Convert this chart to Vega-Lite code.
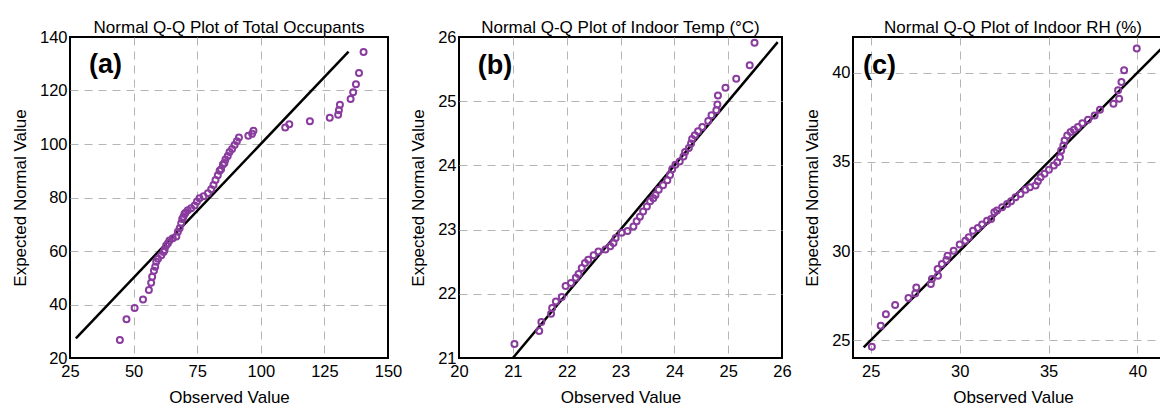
{
  "$schema": "https://vega.github.io/schema/vega-lite/v6.json",
  "padding": {"left": 10, "top": 18, "right": 0, "bottom": 0},
  "bounds": "flush",
  "spacing": 71,
  "datasets": {
    "pts": [
      {"panel": "a", "x": 44.6, "y": 26.7}, {"panel": "a", "x": 47.2, "y": 34.5}, {"panel": "a", "x": 50.4, "y": 38.7},
      {"panel": "a", "x": 53.7, "y": 41.9}, {"panel": "a", "x": 56.0, "y": 45.4}, {"panel": "a", "x": 56.9, "y": 48.1},
      {"panel": "a", "x": 57.3, "y": 50.4}, {"panel": "a", "x": 58.0, "y": 52.6}, {"panel": "a", "x": 58.5, "y": 54.1},
      {"panel": "a", "x": 58.9, "y": 56.0}, {"panel": "a", "x": 59.6, "y": 57.1}, {"panel": "a", "x": 60.9, "y": 58.4},
      {"panel": "a", "x": 61.8, "y": 59.6}, {"panel": "a", "x": 62.2, "y": 60.4}, {"panel": "a", "x": 62.8, "y": 62.1},
      {"panel": "a", "x": 63.5, "y": 62.9}, {"panel": "a", "x": 64.1, "y": 63.9}, {"panel": "a", "x": 65.4, "y": 64.8},
      {"panel": "a", "x": 66.8, "y": 65.4}, {"panel": "a", "x": 67.4, "y": 67.2}, {"panel": "a", "x": 68.1, "y": 68.5},
      {"panel": "a", "x": 68.7, "y": 70.4}, {"panel": "a", "x": 69.1, "y": 72.0}, {"panel": "a", "x": 69.6, "y": 72.8},
      {"panel": "a", "x": 70.0, "y": 73.8}, {"panel": "a", "x": 70.4, "y": 74.3}, {"panel": "a", "x": 71.3, "y": 75.2},
      {"panel": "a", "x": 72.6, "y": 76.0}, {"panel": "a", "x": 74.0, "y": 77.0}, {"panel": "a", "x": 74.9, "y": 78.5},
      {"panel": "a", "x": 75.9, "y": 79.7}, {"panel": "a", "x": 77.5, "y": 80.5}, {"panel": "a", "x": 79.2, "y": 81.6},
      {"panel": "a", "x": 80.5, "y": 83.1}, {"panel": "a", "x": 81.4, "y": 84.7}, {"panel": "a", "x": 82.2, "y": 86.5},
      {"panel": "a", "x": 83.1, "y": 88.3}, {"panel": "a", "x": 83.8, "y": 90.0}, {"panel": "a", "x": 84.4, "y": 90.6},
      {"panel": "a", "x": 85.1, "y": 92.3}, {"panel": "a", "x": 85.7, "y": 92.9}, {"panel": "a", "x": 86.1, "y": 94.2},
      {"panel": "a", "x": 87.0, "y": 95.5}, {"panel": "a", "x": 87.7, "y": 97.0}, {"panel": "a", "x": 88.7, "y": 98.1},
      {"panel": "a", "x": 89.7, "y": 99.6}, {"panel": "a", "x": 90.6, "y": 101.0}, {"panel": "a", "x": 91.4, "y": 102.4},
      {"panel": "a", "x": 95.1, "y": 103.1}, {"panel": "a", "x": 96.6, "y": 103.8}, {"panel": "a", "x": 97.1, "y": 105.0},
      {"panel": "a", "x": 109.6, "y": 106.2}, {"panel": "a", "x": 111.2, "y": 107.4}, {"panel": "a", "x": 119.3, "y": 108.5},
      {"panel": "a", "x": 127.1, "y": 109.8}, {"panel": "a", "x": 130.4, "y": 110.9}, {"panel": "a", "x": 130.7, "y": 112.6},
      {"panel": "a", "x": 131.1, "y": 114.7}, {"panel": "a", "x": 135.3, "y": 116.8}, {"panel": "a", "x": 136.3, "y": 119.3},
      {"panel": "a", "x": 137.4, "y": 122.3}, {"panel": "a", "x": 138.6, "y": 126.5}, {"panel": "a", "x": 140.4, "y": 134.4},

      {"panel": "b", "x": 21.03, "y": 21.22}, {"panel": "b", "x": 21.49, "y": 21.42}, {"panel": "b", "x": 21.53, "y": 21.56},
      {"panel": "b", "x": 21.71, "y": 21.69}, {"panel": "b", "x": 21.73, "y": 21.78}, {"panel": "b", "x": 21.80, "y": 21.88},
      {"panel": "b", "x": 21.91, "y": 21.95}, {"panel": "b", "x": 21.98, "y": 22.12}, {"panel": "b", "x": 22.08, "y": 22.17},
      {"panel": "b", "x": 22.17, "y": 22.25}, {"panel": "b", "x": 22.22, "y": 22.31}, {"panel": "b", "x": 22.28, "y": 22.40},
      {"panel": "b", "x": 22.34, "y": 22.48}, {"panel": "b", "x": 22.40, "y": 22.53}, {"panel": "b", "x": 22.50, "y": 22.60},
      {"panel": "b", "x": 22.59, "y": 22.66}, {"panel": "b", "x": 22.72, "y": 22.69}, {"panel": "b", "x": 22.81, "y": 22.74},
      {"panel": "b", "x": 22.87, "y": 22.79}, {"panel": "b", "x": 22.91, "y": 22.87}, {"panel": "b", "x": 23.02, "y": 22.95},
      {"panel": "b", "x": 23.13, "y": 22.98}, {"panel": "b", "x": 23.24, "y": 23.05}, {"panel": "b", "x": 23.30, "y": 23.13},
      {"panel": "b", "x": 23.36, "y": 23.20}, {"panel": "b", "x": 23.42, "y": 23.28}, {"panel": "b", "x": 23.49, "y": 23.36},
      {"panel": "b", "x": 23.55, "y": 23.44}, {"panel": "b", "x": 23.61, "y": 23.49}, {"panel": "b", "x": 23.65, "y": 23.54},
      {"panel": "b", "x": 23.71, "y": 23.62}, {"panel": "b", "x": 23.79, "y": 23.69}, {"panel": "b", "x": 23.87, "y": 23.77},
      {"panel": "b", "x": 23.92, "y": 23.85}, {"panel": "b", "x": 23.96, "y": 23.94}, {"panel": "b", "x": 24.02, "y": 24.01},
      {"panel": "b", "x": 24.10, "y": 24.06}, {"panel": "b", "x": 24.17, "y": 24.14}, {"panel": "b", "x": 24.20, "y": 24.21},
      {"panel": "b", "x": 24.27, "y": 24.27}, {"panel": "b", "x": 24.31, "y": 24.34}, {"panel": "b", "x": 24.33, "y": 24.41},
      {"panel": "b", "x": 24.38, "y": 24.47}, {"panel": "b", "x": 24.44, "y": 24.53}, {"panel": "b", "x": 24.52, "y": 24.60},
      {"panel": "b", "x": 24.63, "y": 24.69}, {"panel": "b", "x": 24.69, "y": 24.78}, {"panel": "b", "x": 24.78, "y": 24.86},
      {"panel": "b", "x": 24.80, "y": 24.95}, {"panel": "b", "x": 24.81, "y": 25.09}, {"panel": "b", "x": 24.95, "y": 25.21},
      {"panel": "b", "x": 25.15, "y": 25.35}, {"panel": "b", "x": 25.40, "y": 25.56}, {"panel": "b", "x": 25.49, "y": 25.91},

      {"panel": "c", "x": 25.06, "y": 24.63}, {"panel": "c", "x": 25.56, "y": 25.81}, {"panel": "c", "x": 25.85, "y": 26.46},
      {"panel": "c", "x": 26.37, "y": 26.97}, {"panel": "c", "x": 27.12, "y": 27.36}, {"panel": "c", "x": 27.56, "y": 27.96},
      {"panel": "c", "x": 27.50, "y": 27.62}, {"panel": "c", "x": 28.38, "y": 28.15}, {"panel": "c", "x": 28.44, "y": 28.43},
      {"panel": "c", "x": 28.78, "y": 28.61}, {"panel": "c", "x": 28.76, "y": 28.99}, {"panel": "c", "x": 29.00, "y": 29.27},
      {"panel": "c", "x": 29.25, "y": 29.49}, {"panel": "c", "x": 29.32, "y": 29.74}, {"panel": "c", "x": 29.66, "y": 30.02},
      {"panel": "c", "x": 30.00, "y": 30.36}, {"panel": "c", "x": 30.32, "y": 30.58}, {"panel": "c", "x": 30.51, "y": 30.77},
      {"panel": "c", "x": 30.75, "y": 31.14}, {"panel": "c", "x": 31.02, "y": 31.29}, {"panel": "c", "x": 31.26, "y": 31.48},
      {"panel": "c", "x": 31.54, "y": 31.70}, {"panel": "c", "x": 31.77, "y": 31.80}, {"panel": "c", "x": 31.95, "y": 32.17},
      {"panel": "c", "x": 32.10, "y": 32.27}, {"panel": "c", "x": 32.39, "y": 32.45}, {"panel": "c", "x": 32.67, "y": 32.64},
      {"panel": "c", "x": 32.89, "y": 32.79}, {"panel": "c", "x": 33.14, "y": 33.01}, {"panel": "c", "x": 33.42, "y": 33.20},
      {"panel": "c", "x": 33.70, "y": 33.43}, {"panel": "c", "x": 33.95, "y": 33.58}, {"panel": "c", "x": 34.27, "y": 33.67},
      {"panel": "c", "x": 34.40, "y": 33.91}, {"panel": "c", "x": 34.55, "y": 34.14}, {"panel": "c", "x": 34.77, "y": 34.33},
      {"panel": "c", "x": 35.02, "y": 34.55}, {"panel": "c", "x": 35.30, "y": 34.79}, {"panel": "c", "x": 35.49, "y": 34.98},
      {"panel": "c", "x": 35.64, "y": 35.26}, {"panel": "c", "x": 35.71, "y": 35.64}, {"panel": "c", "x": 35.83, "y": 35.92},
      {"panel": "c", "x": 35.90, "y": 36.20}, {"panel": "c", "x": 36.05, "y": 36.48}, {"panel": "c", "x": 36.24, "y": 36.67},
      {"panel": "c", "x": 36.43, "y": 36.80}, {"panel": "c", "x": 36.65, "y": 36.95}, {"panel": "c", "x": 36.90, "y": 37.17},
      {"panel": "c", "x": 37.22, "y": 37.36}, {"panel": "c", "x": 37.59, "y": 37.60}, {"panel": "c", "x": 37.89, "y": 37.92},
      {"panel": "c", "x": 38.65, "y": 38.26}, {"panel": "c", "x": 38.97, "y": 38.54}, {"panel": "c", "x": 38.91, "y": 39.01},
      {"panel": "c", "x": 39.10, "y": 39.48}, {"panel": "c", "x": 39.25, "y": 40.13}, {"panel": "c", "x": 39.96, "y": 41.35}
    ],
    "refs": [
      {"panel": "a", "x": 27.3, "y": 27.3, "x2": 134.5, "y2": 134.5},
      {"panel": "b", "x": 21.0, "y": 21.0, "x2": 25.92, "y2": 25.92},
      {"panel": "c", "x": 24.6, "y": 24.6, "x2": 42.0, "y2": 42.0}
    ],
    "tags": [
      {"panel": "a", "x": 32.5, "y": 129.5, "label": "(a)"},
      {"panel": "b", "x": 20.35, "y": 25.55, "label": "(b)"},
      {"panel": "c", "x": 24.56, "y": 40.38, "label": "(c)"}
    ]
  },
  "hconcat": [
    {
      "width": 318, "height": 321,
      "title": {"text": "Normal Q-Q Plot of Total Occupants", "offset": -8},
      "encoding": {
        "x": {"field": "x", "type": "quantitative", "scale": {"domain": [25, 150], "nice": false, "zero": false},
              "axis": {"values": [25, 50, 75, 100, 125, 150], "title": "Observed Value",
                       "gridOpacity": {"condition": {"test": "datum.value <= 25 || datum.value >= 150", "value": 0}, "value": 1}}},
        "y": {"field": "y", "type": "quantitative", "scale": {"domain": [20, 140], "nice": false, "zero": false},
              "axis": {"values": [20, 40, 60, 80, 100, 120, 140], "title": "Expected Normal Value",
                       "gridOpacity": {"condition": {"test": "datum.value <= 20 || datum.value >= 140", "value": 0}, "value": 1}}}
      },
      "layer": [
        {"data": {"name": "refs"}, "transform": [{"filter": "datum.panel === 'a'"}],
         "mark": {"type": "rule", "color": "#000000", "strokeWidth": 2.5, "clip": true},
         "encoding": {"x2": {"field": "x2"}, "y2": {"field": "y2"}}},
        {"data": {"name": "pts"}, "transform": [{"filter": "datum.panel === 'a'"}],
         "mark": {"type": "point", "shape": "circle", "filled": false, "color": "#8a3c9e", "size": 36, "strokeWidth": 2, "opacity": 1}},
        {"data": {"name": "tags"}, "transform": [{"filter": "datum.panel === 'a'"}],
         "mark": {"type": "text", "align": "left", "baseline": "middle", "font": "Liberation Sans", "fontSize": 27, "fontWeight": "bold", "color": "#000000"},
         "encoding": {"text": {"field": "label"}}}
      ]
    },
    {
      "width": 323, "height": 321,
      "title": {"text": "Normal Q-Q Plot of Indoor Temp (°C)", "offset": -8},
      "encoding": {
        "x": {"field": "x", "type": "quantitative", "scale": {"domain": [20, 26], "nice": false, "zero": false},
              "axis": {"values": [20, 21, 22, 23, 24, 25, 26], "title": "Observed Value",
                       "gridOpacity": {"condition": {"test": "datum.value <= 20 || datum.value >= 26", "value": 0}, "value": 1}}},
        "y": {"field": "y", "type": "quantitative", "scale": {"domain": [21, 26], "nice": false, "zero": false},
              "axis": {"values": [21, 22, 23, 24, 25, 26], "title": "Expected Normal Value",
                       "gridOpacity": {"condition": {"test": "datum.value <= 21 || datum.value >= 26", "value": 0}, "value": 1}}}
      },
      "layer": [
        {"data": {"name": "refs"}, "transform": [{"filter": "datum.panel === 'b'"}],
         "mark": {"type": "rule", "color": "#000000", "strokeWidth": 2.5, "clip": true},
         "encoding": {"x2": {"field": "x2"}, "y2": {"field": "y2"}}},
        {"data": {"name": "pts"}, "transform": [{"filter": "datum.panel === 'b'"}],
         "mark": {"type": "point", "shape": "circle", "filled": false, "color": "#8a3c9e", "size": 36, "strokeWidth": 2, "opacity": 1}},
        {"data": {"name": "tags"}, "transform": [{"filter": "datum.panel === 'b'"}],
         "mark": {"type": "text", "align": "left", "baseline": "middle", "font": "Liberation Sans", "fontSize": 27, "fontWeight": "bold", "color": "#000000"},
         "encoding": {"text": {"field": "label"}}}
      ]
    },
    {
      "width": 320, "height": 321,
      "title": {"text": "Normal Q-Q Plot of Indoor RH (%)", "offset": 0},
      "encoding": {
        "x": {"field": "x", "type": "quantitative", "scale": {"domain": [24, 42], "nice": false, "zero": false},
              "axis": {"values": [25, 30, 35, 40], "title": "Observed Value"}},
        "y": {"field": "y", "type": "quantitative", "scale": {"domain": [24, 42], "nice": false, "zero": false},
              "axis": {"values": [25, 30, 35, 40], "title": "Expected Normal Value"}}
      },
      "layer": [
        {"data": {"name": "refs"}, "transform": [{"filter": "datum.panel === 'c'"}],
         "mark": {"type": "rule", "color": "#000000", "strokeWidth": 2.5, "clip": true},
         "encoding": {"x2": {"field": "x2"}, "y2": {"field": "y2"}}},
        {"data": {"name": "pts"}, "transform": [{"filter": "datum.panel === 'c'"}],
         "mark": {"type": "point", "shape": "circle", "filled": false, "color": "#8a3c9e", "size": 36, "strokeWidth": 2, "opacity": 1}},
        {"data": {"name": "tags"}, "transform": [{"filter": "datum.panel === 'c'"}],
         "mark": {"type": "text", "align": "left", "baseline": "middle", "font": "Liberation Sans", "fontSize": 27, "fontWeight": "bold", "color": "#000000"},
         "encoding": {"text": {"field": "label"}}}
      ]
    }
  ],
  "config": {
    "background": "#ffffff",
    "view": {"stroke": "#000000", "strokeWidth": 2},
    "title": {"font": "Liberation Sans", "fontSize": 17, "fontWeight": "normal", "color": "#000000", "anchor": "middle", "frame": "group"},
    "axis": {
      "domain": false, "ticks": false,
      "grid": true, "gridColor": "#b5b5b5", "gridDash": [8, 6], "gridWidth": 1,
      "labelFont": "Liberation Sans", "labelFontSize": 16.5, "labelColor": "#000000",
      "labelOverlap": false, "labelFlush": false, "labelBound": false, "labelPadding": 3,
      "titleFont": "Liberation Sans", "titleFontSize": 17, "titleFontWeight": "normal", "titleColor": "#000000"
    },
    "axisX": {"labelPadding": 5, "titlePadding": 10},
    "axisY": {"titlePadding": 10}
  }
}
